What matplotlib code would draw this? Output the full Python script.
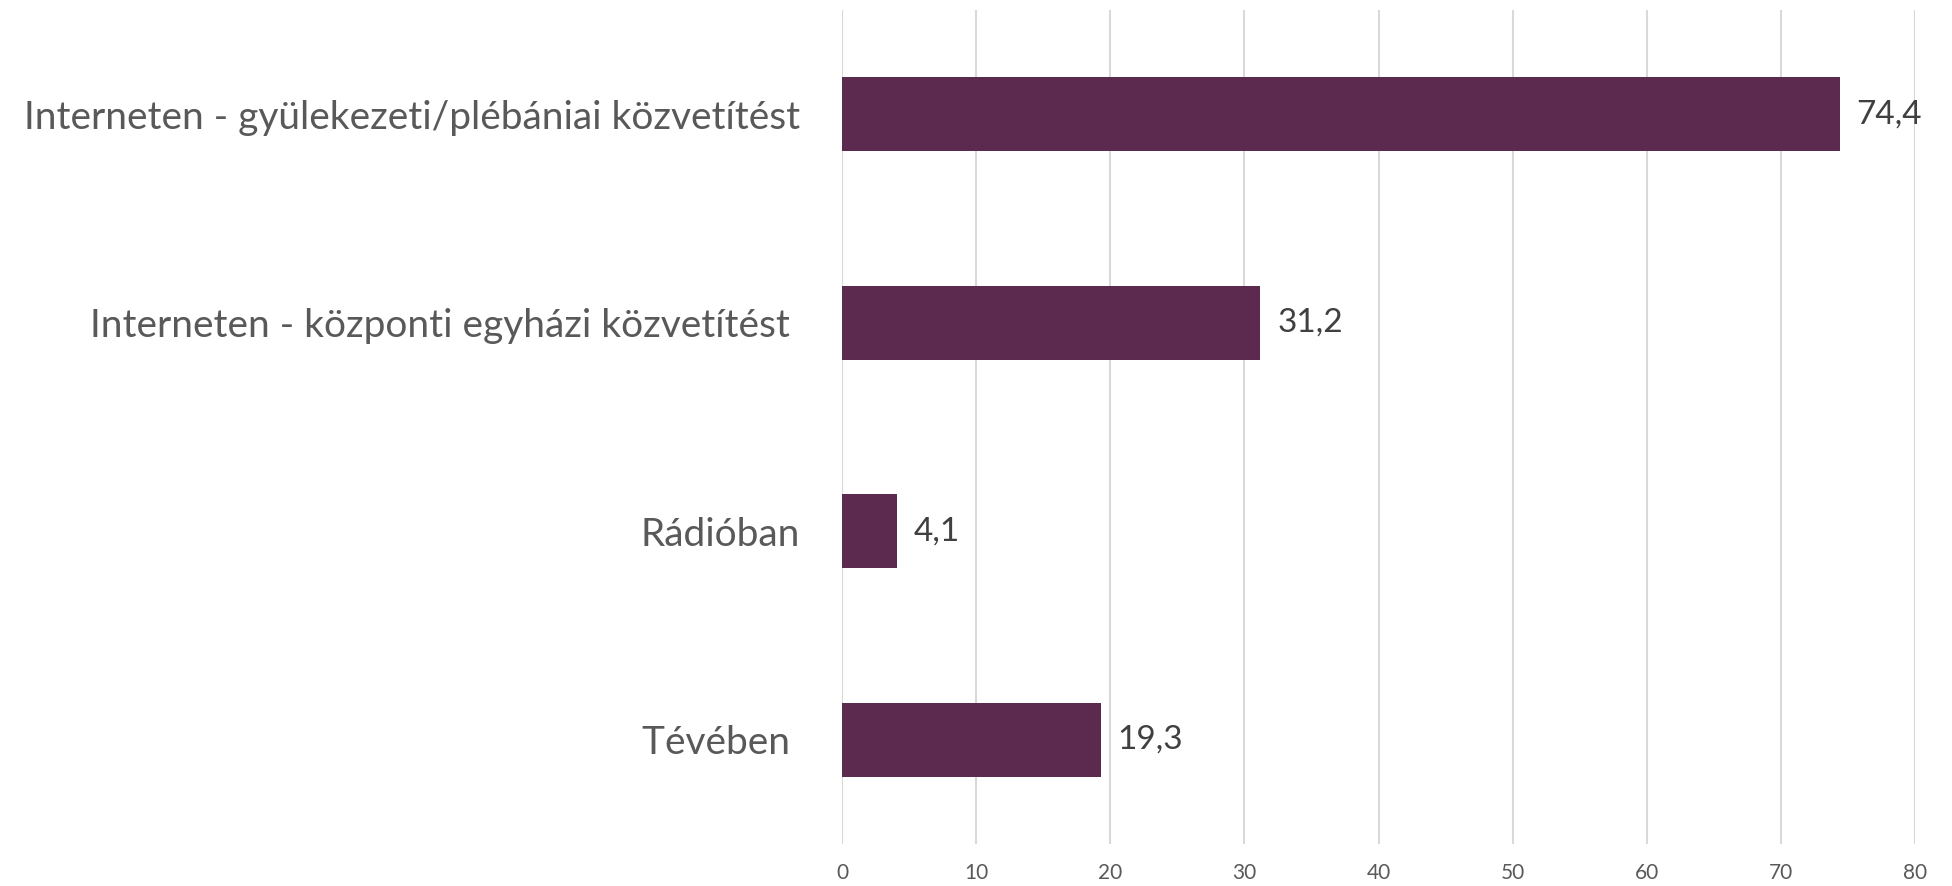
import matplotlib
matplotlib.use("Agg")
import matplotlib.pyplot as plt

categories = ["Interneten - gyülekezeti/plébániai közvetítést",
              "Interneten - központi egyházi közvetítést ",
              "Rádióban",
              "Tévében "]
values = [74.4, 31.2, 4.1, 19.3]
value_labels = ["74,4", "31,2", "4,1", "19,3"]
xticks = [0, 10, 20, 30, 40, 50, 60, 70, 80]

plt.rcParams['font.family'] = ['Lato', 'DejaVu Sans']

fig = plt.figure(figsize=(19.52, 8.86), dpi=100)
ax = fig.add_axes([842/1952, 42/886, (1915-842)/1952, (844-10)/886])

ypos = list(range(len(categories)))
ax.barh(ypos, values, height=0.355, color="#5C2A4F", zorder=3)
for y, v, lab in zip(ypos, values, value_labels):
    ax.text(v + 1.25, y, lab, va="center", ha="left", fontsize=24, color="#404040")

ax.set_xlim(0, 80)
ax.set_ylim(len(categories) - 0.5, -0.5)
ax.set_xticks(xticks)
ax.set_xticklabels([str(t) for t in xticks], fontsize=15, color="#595959")
ax.set_yticks(ypos)
ax.set_yticklabels(categories, fontsize=28, color="#595959")
ax.tick_params(axis="x", length=0, pad=14)
ax.tick_params(axis="y", length=0, pad=30)
ax.grid(axis="x", color="#D9D9D9", linewidth=1.5, zorder=0)
for s in ax.spines.values():
    s.set_visible(False)

fig.savefig("out.png", dpi=100, facecolor="white")
